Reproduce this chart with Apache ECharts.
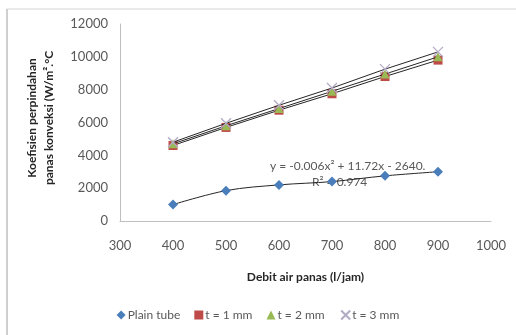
<!DOCTYPE html>
<html>
<head>
<meta charset="utf-8">
<script src="https://cdn.jsdelivr.net/npm/echarts@6/dist/echarts.min.js"></script>
<style>
html,body{margin:0;padding:0;background:#fff;}
#c{width:516px;height:335px;}
</style>
</head>
<body>
<div id="c"></div>
<script>
var debit = [400, 500, 600, 700, 800, 900];
var plainTube = [1000, 1850, 2200, 2400, 2750, 3000];
var t1mm = [4600, 5700, 6750, 7750, 8800, 9800];
var t2mm = [4700, 5800, 6850, 7900, 8950, 10000];
var t3mm = [4800, 5950, 7050, 8100, 9250, 10300];
var seriesNames = ['Plain tube', 't = 1 mm', 't = 2 mm', 't = 3 mm'];
var equationText = 'y = -0.006x\u00b2 + 11.72x - 2640.';
var r2Text = 'R\u00b2 = 0.974';

function pairs(vals){ return debit.map(function(x,i){ return [x, vals[i]]; }); }

var FONT = 'Lato';
var GRAY = '#595959';

var chart = echarts.init(document.getElementById('c'));
var markColors = ['#4a7ebb', '#be4b48', '#98b954', '#b3abc4'];
var symbols = ['diamond', 'rect', 'triangle', 'path://M0,0 L10,10 M10,0 L0,10'];
var sizes = [10, 9, 9, 10];
var datas = [plainTube, t1mm, t2mm, t3mm];

var series = datas.map(function(d, i){
  return {
    name: seriesNames[i],
    type: 'line',
    data: pairs(d),
    smooth: i === 0 ? 0.35 : false,
    symbol: symbols[i],
    symbolSize: sizes[i],
    showSymbol: true,
    lineStyle: {color: '#262626', width: 1},
    itemStyle: i === 3 ? {color: 'none', borderColor: markColors[i], borderWidth: 1.3} : {color: markColors[i]},
    z: i === 0 ? 2 : 2 + i
  };
});

var plain = function(v){ return String(v); };

var option = {
  backgroundColor: '#fff',
  animation: false,
  textStyle: {fontFamily: FONT},
  grid: {left: 120, right: 25, top: 24, bottom: 114},
  xAxis: {
    type: 'value', min: 300, max: 1000, interval: 100,
    axisLine: {show: true, lineStyle: {color: '#bfbfbf', width: 1}},
    axisTick: {show: false},
    splitLine: {show: false},
    axisLabel: {color: GRAY, fontSize: 13, margin: 18, fontFamily: FONT, formatter: plain},
    name: 'Debit air panas (l/jam)',
    nameLocation: 'middle', nameGap: 50,
    nameTextStyle: {color: '#262626', fontWeight: 'bold', fontSize: 12, fontFamily: FONT}
  },
  yAxis: {
    type: 'value', min: 0, max: 12000, interval: 2000,
    axisLine: {show: true, lineStyle: {color: '#bfbfbf', width: 1}},
    axisTick: {show: false},
    splitLine: {show: false},
    axisLabel: {color: GRAY, fontSize: 13, margin: 12, fontFamily: FONT, formatter: plain}
  },
  legend: {
    bottom: 8, left: 'center',
    itemGap: 14, itemWidth: 9, itemHeight: 9,
    textStyle: {color: GRAY, fontSize: 12, fontFamily: FONT, padding: [0,0,0,-3]},
    data: seriesNames.map(function(n, i){ return {name: n, icon: symbols[i]}; })
  },
  graphic: [
    {type: 'line', shape: {x1: 7, y1: 9, x2: 516, y2: 9}, style: {stroke: '#d4d4d4', lineWidth: 1}},
    {type: 'line', shape: {x1: 7, y1: 9, x2: 7, y2: 335}, style: {stroke: '#cfcfcf', lineWidth: 2}},
    {type: 'text', x: 41, y: 118, rotation: Math.PI/2,
     style: {text: 'Koefisien perpindahan\npanas konveksi (W/m\u00b2.\u00b0C', fill: '#262626', font: 'bold 12px Lato', align: 'center', verticalAlign: 'middle', lineHeight: 17}},
    {type: 'text', x: 270, y: 160, style: {text: equationText, fill: GRAY, font: '12px Lato'}},
    {type: 'text', x: 312, y: 176, style: {text: r2Text, fill: GRAY, font: '12px Lato'}, z: 1}
  ],
  series: series
};
chart.setOption(option);
</script>
</body>
</html>
